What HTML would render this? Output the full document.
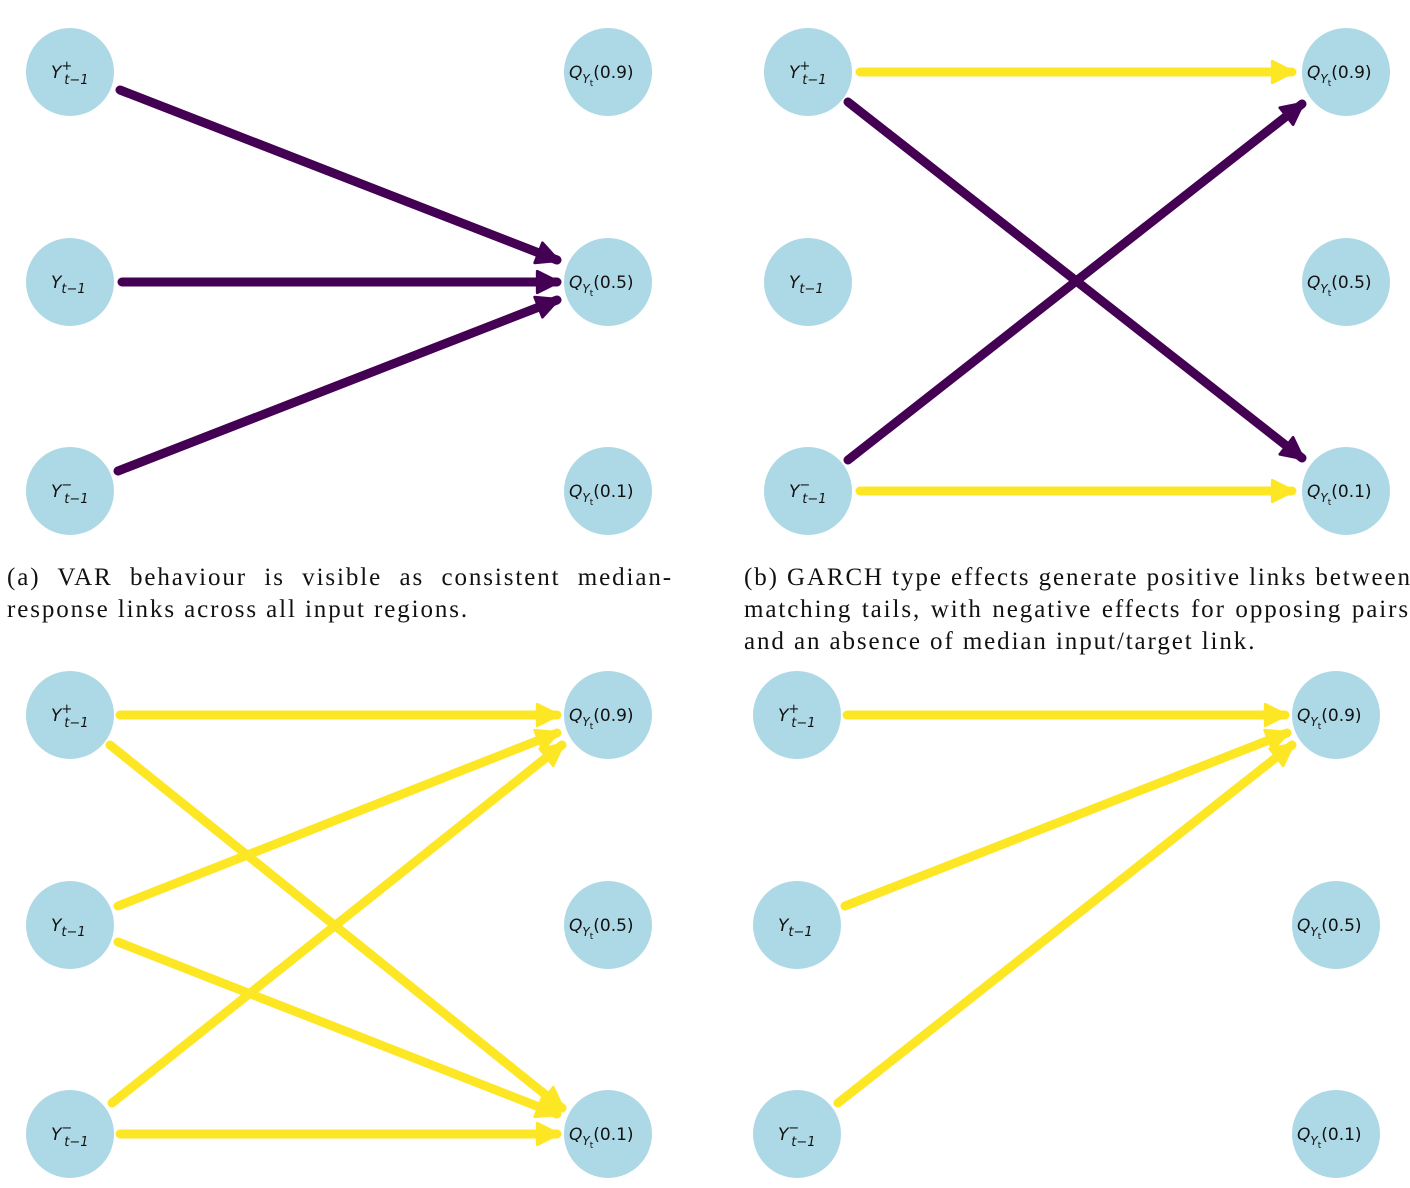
<!DOCTYPE html>
<html><head><meta charset="utf-8"><style>
body{margin:0;background:#fff;width:1410px;height:1188px;position:relative;overflow:hidden}
svg{position:absolute;left:0;top:0}
.cap{position:absolute;font-family:"Liberation Serif",serif;font-size:25px;letter-spacing:1.9px;line-height:32px;color:#111}
.j{text-align:justify;text-align-last:justify;white-space:nowrap}
text{font-family:"DejaVu Sans",sans-serif;font-size:17px;fill:#111}
</style></head><body>
<svg width="1410" height="1188" viewBox="0 0 1410 1188">
<defs>
<marker id="mp" markerWidth="3" markerHeight="3" refX="2.4" refY="1.5" orient="auto" markerUnits="strokeWidth"><path d="M0.2,0.3 L2.6,1.5 L0.2,2.7 Z" fill="#440154" stroke="#440154" stroke-width="0.3" stroke-linejoin="round"/></marker>
<marker id="my" markerWidth="3" markerHeight="3" refX="2.4" refY="1.5" orient="auto" markerUnits="strokeWidth"><path d="M0.2,0.3 L2.6,1.5 L0.2,2.7 Z" fill="#fde725" stroke="#fde725" stroke-width="0.3" stroke-linejoin="round"/></marker>
</defs>
<g fill="#add8e6">
<circle cx="70" cy="72" r="44"/><circle cx="70" cy="282" r="44"/><circle cx="70" cy="491" r="44"/>
<circle cx="608" cy="72" r="44"/><circle cx="608" cy="282" r="44"/><circle cx="608" cy="491" r="44"/>
<circle cx="808" cy="72" r="44"/><circle cx="808" cy="282" r="44"/><circle cx="808" cy="491" r="44"/>
<circle cx="1346" cy="72" r="44"/><circle cx="1346" cy="282" r="44"/><circle cx="1346" cy="491" r="44"/>
<circle cx="70" cy="715" r="44"/><circle cx="70" cy="925" r="44"/><circle cx="70" cy="1134" r="44"/>
<circle cx="608" cy="715" r="44"/><circle cx="608" cy="925" r="44"/><circle cx="608" cy="1134" r="44"/>
<circle cx="797" cy="715" r="44"/><circle cx="797" cy="925" r="44"/><circle cx="797" cy="1134" r="44"/>
<circle cx="1336" cy="715" r="44"/><circle cx="1336" cy="925" r="44"/><circle cx="1336" cy="1134" r="44"/>
</g>
<g stroke-width="9" stroke-linecap="round" fill="none">
<g stroke="#440154" marker-end="url(#mp)">
<line x1="120" y1="90" x2="557" y2="260"/>
<line x1="122" y1="282" x2="557" y2="282"/>
<line x1="118" y1="471" x2="557" y2="300"/>
<line x1="848" y1="102" x2="1302" y2="458"/>
<line x1="848" y1="460" x2="1302" y2="104"/>
</g>
<g stroke="#fde725" marker-end="url(#my)">
<line x1="860" y1="72" x2="1292" y2="72"/>
<line x1="860" y1="491" x2="1292" y2="491"/>
<line x1="120" y1="715" x2="557" y2="715"/>
<line x1="110" y1="745" x2="562" y2="1108"/>
<line x1="118" y1="906" x2="557" y2="733"/>
<line x1="118" y1="942" x2="557" y2="1114"/>
<line x1="112" y1="1103" x2="562" y2="745"/>
<line x1="120" y1="1134" x2="557" y2="1134"/>
<line x1="847" y1="715" x2="1285" y2="715"/>
<line x1="845" y1="906" x2="1287" y2="733"/>
<line x1="838" y1="1103" x2="1292" y2="745"/>
</g>
</g>
<g>
<text x="51" y="78" font-style="italic">Y<tspan dy="-8" font-size="13" font-style="normal">+</tspan><tspan dx="-8" dy="14" font-size="13">t−1</tspan></text>
<text x="51" y="288" font-style="italic">Y<tspan dy="5" font-size="13">t−1</tspan></text>
<text x="51" y="497" font-style="italic">Y<tspan dy="-8" font-size="13" font-style="normal">−</tspan><tspan dx="-8" dy="14" font-size="13">t−1</tspan></text>
<text x="789" y="78" font-style="italic">Y<tspan dy="-8" font-size="13" font-style="normal">+</tspan><tspan dx="-8" dy="14" font-size="13">t−1</tspan></text>
<text x="789" y="288" font-style="italic">Y<tspan dy="5" font-size="13">t−1</tspan></text>
<text x="789" y="497" font-style="italic">Y<tspan dy="-8" font-size="13" font-style="normal">−</tspan><tspan dx="-8" dy="14" font-size="13">t−1</tspan></text>
<text x="51" y="721" font-style="italic">Y<tspan dy="-8" font-size="13" font-style="normal">+</tspan><tspan dx="-8" dy="14" font-size="13">t−1</tspan></text>
<text x="51" y="931" font-style="italic">Y<tspan dy="5" font-size="13">t−1</tspan></text>
<text x="51" y="1140" font-style="italic">Y<tspan dy="-8" font-size="13" font-style="normal">−</tspan><tspan dx="-8" dy="14" font-size="13">t−1</tspan></text>
<text x="778" y="721" font-style="italic">Y<tspan dy="-8" font-size="13" font-style="normal">+</tspan><tspan dx="-8" dy="14" font-size="13">t−1</tspan></text>
<text x="778" y="931" font-style="italic">Y<tspan dy="5" font-size="13">t−1</tspan></text>
<text x="778" y="1140" font-style="italic">Y<tspan dy="-8" font-size="13" font-style="normal">−</tspan><tspan dx="-8" dy="14" font-size="13">t−1</tspan></text>
</g>
<g>
<text x="569" y="78"><tspan font-style="italic">Q</tspan><tspan dy="5" font-size="12" font-style="italic">Y</tspan><tspan dy="3" font-size="9">t</tspan><tspan dy="-8">(0.9)</tspan></text>
<text x="569" y="288"><tspan font-style="italic">Q</tspan><tspan dy="5" font-size="12" font-style="italic">Y</tspan><tspan dy="3" font-size="9">t</tspan><tspan dy="-8">(0.5)</tspan></text>
<text x="569" y="497"><tspan font-style="italic">Q</tspan><tspan dy="5" font-size="12" font-style="italic">Y</tspan><tspan dy="3" font-size="9">t</tspan><tspan dy="-8">(0.1)</tspan></text>
<text x="1307" y="78"><tspan font-style="italic">Q</tspan><tspan dy="5" font-size="12" font-style="italic">Y</tspan><tspan dy="3" font-size="9">t</tspan><tspan dy="-8">(0.9)</tspan></text>
<text x="1307" y="288"><tspan font-style="italic">Q</tspan><tspan dy="5" font-size="12" font-style="italic">Y</tspan><tspan dy="3" font-size="9">t</tspan><tspan dy="-8">(0.5)</tspan></text>
<text x="1307" y="497"><tspan font-style="italic">Q</tspan><tspan dy="5" font-size="12" font-style="italic">Y</tspan><tspan dy="3" font-size="9">t</tspan><tspan dy="-8">(0.1)</tspan></text>
<text x="569" y="721"><tspan font-style="italic">Q</tspan><tspan dy="5" font-size="12" font-style="italic">Y</tspan><tspan dy="3" font-size="9">t</tspan><tspan dy="-8">(0.9)</tspan></text>
<text x="569" y="931"><tspan font-style="italic">Q</tspan><tspan dy="5" font-size="12" font-style="italic">Y</tspan><tspan dy="3" font-size="9">t</tspan><tspan dy="-8">(0.5)</tspan></text>
<text x="569" y="1140"><tspan font-style="italic">Q</tspan><tspan dy="5" font-size="12" font-style="italic">Y</tspan><tspan dy="3" font-size="9">t</tspan><tspan dy="-8">(0.1)</tspan></text>
<text x="1297" y="721"><tspan font-style="italic">Q</tspan><tspan dy="5" font-size="12" font-style="italic">Y</tspan><tspan dy="3" font-size="9">t</tspan><tspan dy="-8">(0.9)</tspan></text>
<text x="1297" y="931"><tspan font-style="italic">Q</tspan><tspan dy="5" font-size="12" font-style="italic">Y</tspan><tspan dy="3" font-size="9">t</tspan><tspan dy="-8">(0.5)</tspan></text>
<text x="1297" y="1140"><tspan font-style="italic">Q</tspan><tspan dy="5" font-size="12" font-style="italic">Y</tspan><tspan dy="3" font-size="9">t</tspan><tspan dy="-8">(0.1)</tspan></text>
</g>
</svg>
<div class="cap" style="left:7px;top:562px;width:666px">
<div class="j">(a) VAR behaviour is visible as consistent median-</div>
<div>response links across all input regions.</div>
</div>
<div class="cap" style="left:744px;top:562px;width:666px">
<div class="j">(b) GARCH type effects generate positive links between</div>
<div class="j">matching tails, with negative effects for opposing pairs</div>
<div>and an absence of median input/target link.</div>
</div>
</body></html>
